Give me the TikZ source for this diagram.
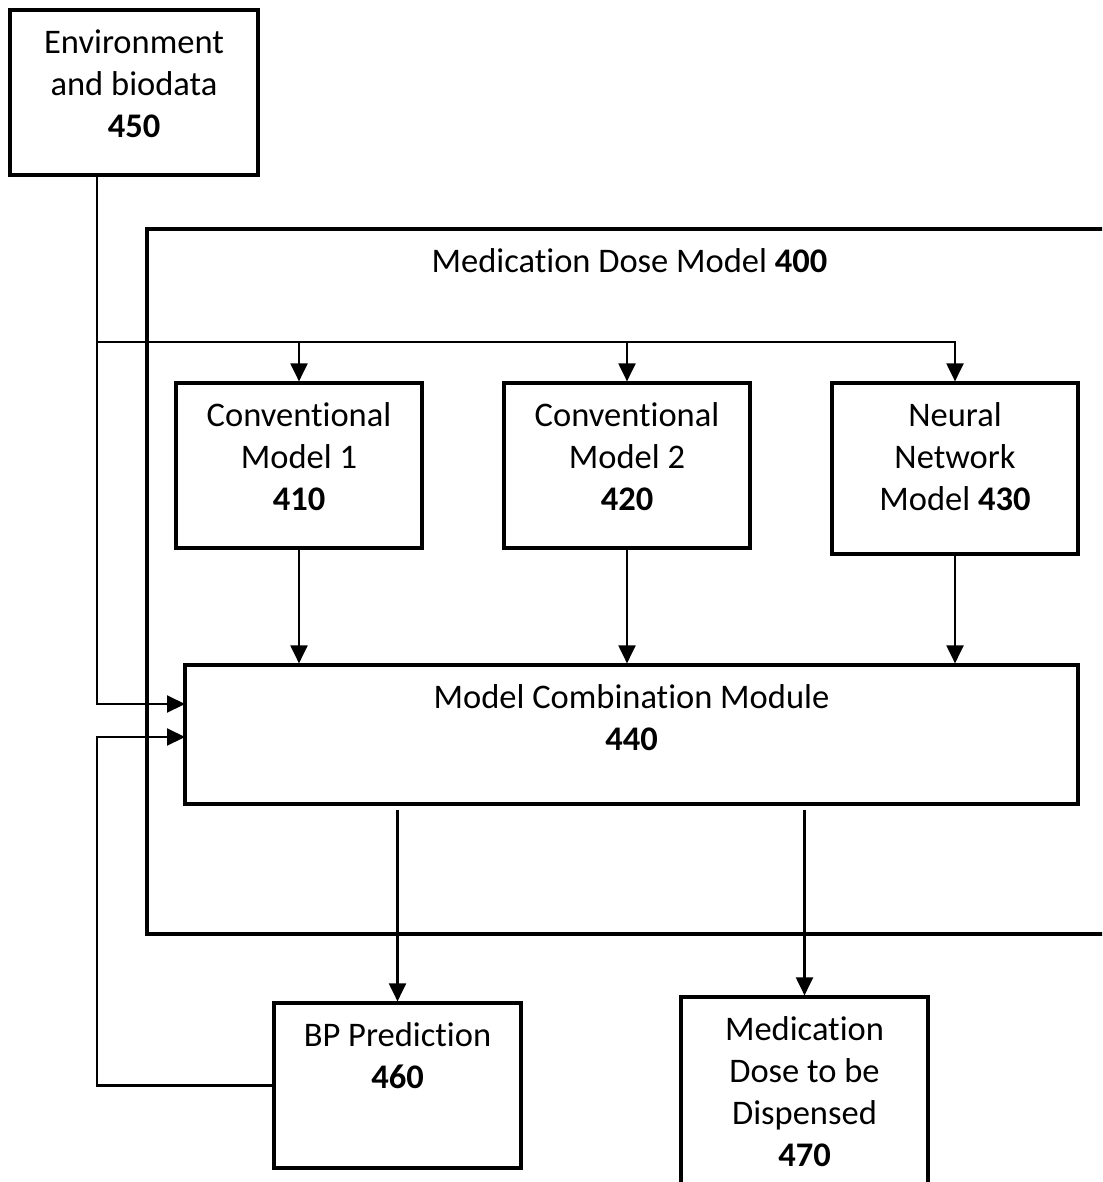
\documentclass[tikz,border=0pt]{standalone}
\usepackage{fontspec}
\setmainfont{Carlito}[Ligatures=NoCommon]
\usetikzlibrary{arrows.meta}
\begin{document}
\begin{tikzpicture}[x=1pt,y=-1pt,
  box/.style={draw,line width=3.2pt,inner sep=0pt},
  lbl/.style={anchor=north,align=center,inner sep=0pt,font=\fontsize{34.5}{42}\selectfont},
  conn/.style={line width=2.1pt,-{Triangle[length=18pt,width=17pt]}},
  wire/.style={line width=2.1pt}]
\useasboundingbox (0,0) rectangle (1102,1182);
\clip (0,0) rectangle (1102,1182);

% boxes
\node[box,minimum width=248pt,minimum height=165pt] (b450) at (134,92.5) {};
\node[box,minimum width=965pt,minimum height=705pt] (b400) at (629.5,581.5) {};
\node[box,minimum width=246pt,minimum height=165pt] (b410) at (299,465.5) {};
\node[box,minimum width=246pt,minimum height=165pt] (b420) at (627,465.5) {};
\node[box,minimum width=246pt,minimum height=171pt] (b430) at (955,468.5) {};
\node[box,minimum width=893pt,minimum height=139pt] (b440) at (631.5,734.5) {};
\node[box,minimum width=247pt,minimum height=165pt] (b460) at (397.5,1085.5) {};
\node[box,minimum width=247pt,minimum height=193pt] (b470) at (804.5,1093.5) {};

% labels
\node[lbl] (t450) at ([yshift=-21pt]b450.north) {Environment\\and biodata\\\textbf{450}};
\node[lbl] (t400) at ([yshift=-21pt]b400.north) {Medication Dose Model \textbf{400}};
\node[lbl] (t410) at ([yshift=-21pt]b410.north) {Conventional\\Model 1\\\textbf{410}};
\node[lbl] (t420) at ([yshift=-21pt]b420.north) {Conventional\\Model 2\\\textbf{420}};
\node[lbl] (t430) at ([yshift=-21pt]b430.north) {Neural\\Network\\Model \textbf{430}};
\node[lbl] (t440) at ([yshift=-21pt]b440.north) {Model Combination Module\\\textbf{440}};
\node[lbl] (t460) at ([yshift=-21pt]b460.north) {BP Prediction\\\textbf{460}};
\node[lbl] (t470) at ([yshift=-21pt]b470.north) {Medication\\Dose to be\\Dispensed\\\textbf{470}};

% connectors
\coordinate (split) at (97,342);
\coordinate (in1) at (185,704);
\coordinate (in2) at (185,737);
\draw[conn] (b450.south -| split) |- (in1);
\draw[conn] (split) -| (b430.north);
\draw[conn] (b410.north |- split) -- (b410.north);
\draw[conn] (b420.north |- split) -- (b420.north);
\draw[conn] (b410.south) -- (b410.south |- b440.north);
\draw[conn] (b420.south) -- (b420.south |- b440.north);
\draw[conn] (b430.south) -- (b430.south |- b440.north);
\draw[conn] ([yshift=-4pt]b440.south -| b460.north) -- (b460.north);
\draw[conn] ([yshift=-4pt]b440.south -| b470.north) -- (b470.north);
\draw[conn] (b460.west) -- (b460.west -| split) |- (in2);
\end{tikzpicture}
\end{document}
